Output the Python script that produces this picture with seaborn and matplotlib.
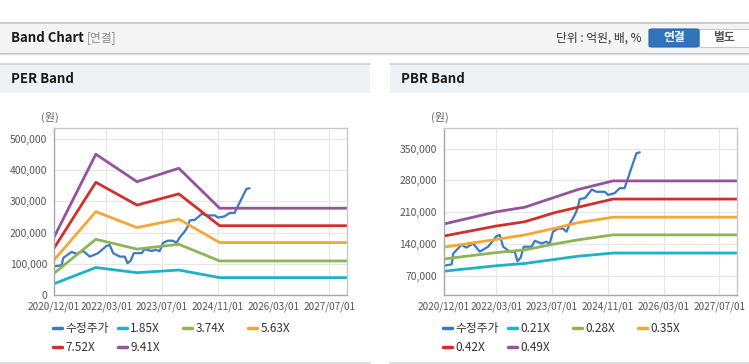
import pandas as pd
import matplotlib.pyplot as plt
import seaborn as sns
from matplotlib.patches import Rectangle, FancyBboxPatch
from matplotlib.lines import Line2D

# --- data (values in 원) ---
price_dates = ['2020-12-03', '2021-02-06', '2021-02-20', '2021-05-03', '2021-06-15', '2021-08-12',
               '2021-10-09', '2021-12-21', '2022-03-03', '2022-04-01', '2022-05-01', '2022-06-28',
               '2022-08-10', '2022-09-03', '2022-10-01', '2022-10-28', '2023-01-04', '2023-02-01',
               '2023-04-01', '2023-05-13', '2023-06-10', '2023-07-10', '2023-08-22', '2023-10-04',
               '2023-11-04', '2023-12-04', '2024-01-16', '2024-02-10', '2024-02-28', '2024-04-13',
               '2024-06-13', '2024-07-22', '2024-10-04', '2024-11-01', '2024-12-28', '2025-02-12',
               '2025-03-25', '2025-04-18', '2025-06-07', '2025-07-07', '2025-08-04']
price = [92000, 95000, 119000, 138000, 132000, 141000, 123000, 134000, 157000, 160000, 134000,
         123000, 123000, 102000, 110000, 134000, 134000, 147000, 141000, 145000, 140000, 167000,
         174000, 174000, 167000, 185000, 204000, 219000, 239000, 241000, 260000, 255000, 255000,
         248000, 252000, 263000, 263000, 281000, 318000, 340000, 342000]

per_dates = ['2020-12-01', '2021-12-01', '2022-11-25', '2023-11-25', '2024-11-15', '2027-12-01']
per_labels = ['1.85X', '3.74X', '5.63X', '7.52X', '9.41X']
per_185 = [36000, 88000, 71500, 80000, 55600, 55600]
per_374 = [69500, 178500, 147000, 162500, 109000, 109000]
per_563 = [112000, 267000, 216000, 243000, 168000, 168000]
per_752 = [150000, 361000, 288000, 324000, 222000, 222000]
per_941 = [185000, 451000, 363000, 406000, 278000, 278000]

pbr_dates = ['2020-12-01', '2022-03-03', '2022-11-06', '2023-07-25', '2024-02-13', '2024-12-15', '2027-12-01']
pbr_labels = ['0.21X', '0.28X', '0.35X', '0.42X', '0.49X']
pbr_021 = [80000, 92000, 97000, 106000, 113000, 120000, 120000]
pbr_028 = [107000, 121000, 127000, 140000, 149000, 160000, 160000]
pbr_035 = [133000, 150000, 160000, 174500, 187000, 199000, 199000]
pbr_042 = [157500, 179600, 189000, 209000, 221000, 239000, 239000]
pbr_049 = [184000, 211000, 221000, 243000, 260000, 279000, 279000]

date_ticks = ['2020/12/01', '2022/03/01', '2023/07/01', '2024/11/01', '2026/03/01', '2027/07/01']
per_yticks = [0, 100000, 200000, 300000, 400000, 500000]
pbr_yticks = [70000, 140000, 210000, 280000, 350000]

colors = ['#3a78c8', '#1eb2c6', '#8db456', '#f4a734', '#d0302c', '#97529d']
price_name = '수정주가'

sns.set_theme(style='white')
plt.rcParams['font.family'] = ['Noto Sans CJK KR', 'DejaVu Sans']

W, H = 749, 364
fig = plt.figure(figsize=(W / 100, H / 100), dpi=100)


def fx(px):
    return px / W


def fy(py):
    return 1 - py / H


def rect(x0, y0, x1, y1, fc, ec='none', lw=0):
    fig.patches.append(Rectangle((fx(x0), fy(y1)), fx(x1) - fx(x0), fy(y0) - fy(y1),
                                 transform=fig.transFigure, fc=fc, ec=ec, lw=lw, zorder=0))


def hline(x0, x1, y, c, lw=1):
    fig.add_artist(Line2D([fx(x0), fx(x1)], [fy(y), fy(y)], transform=fig.transFigure, color=c, lw=lw))


# header bar
rect(0, 23, W, 52, '#f4f4f4')
hline(0, W, 23, '#c4c4c4', 1.2)
hline(0, W, 52.5, '#bdbdbd', 1.0)
hline(0, W, 53.5, '#dedede', 1.0)
fig.text(fx(11), fy(38), 'Band Chart', fontsize=9.5, fontweight='bold', color='#1a1a1a', va='center')
fig.text(fx(87), fy(38), '[연결]', fontsize=8.5, color='#8a8a8a', va='center')
fig.text(fx(641), fy(38), '단위 : 억원, 배, %', fontsize=8.5, color='#333333', va='center', ha='right')
fig.patches.append(FancyBboxPatch((fx(649), fy(47)), fx(50), fy(29) - fy(47),
                                  boxstyle='round,pad=0,rounding_size=0.004', transform=fig.transFigure,
                                  fc='#3274bb', ec='#2a66a8', lw=0.8, zorder=1))
rect(699, 29, 752, 47, '#ffffff', '#c8c8c8', 0.8)
fig.text(fx(674), fy(38), '연결', fontsize=8.5, fontweight='bold', color='white', va='center', ha='center')
fig.text(fx(724), fy(38), '별도', fontsize=8.5, fontweight='bold', color='#555555', va='center', ha='center')

# panels
for x0, x1, title in [(0, 370, 'PER Band'), (390, W, 'PBR Band')]:
    rect(x0, 64, x1, 93, '#eef2f7')
    hline(x0, x1, 64, '#d2d2d2', 1.2)
    hline(x0, x1, 362.5, '#d8d8d8', 1.2)
    fig.text(fx(x0 + 11), fy(79), title, fontsize=9.5, fontweight='bold', color='#1a1a1a', va='center')


def draw(ax, left_px, band_dates, band_names, band_values, yticks, ylim):
    frames = [pd.DataFrame({'date': pd.to_datetime(price_dates), 'value': price, 'series': price_name})]
    for name, vals in zip(band_names, band_values):
        frames.append(pd.DataFrame({'date': pd.to_datetime(band_dates), 'value': vals, 'series': name}))
    df = pd.concat(frames, ignore_index=True)
    order = [price_name] + band_names
    sizes = {n: (1.6 if n == price_name else 2.0) for n in order}
    sns.lineplot(data=df, x='date', y='value', hue='series', hue_order=order,
                 palette=dict(zip(order, colors)), size='series', sizes=sizes,
                 size_order=order, ax=ax, legend=False, estimator=None, sort=True)
    ax.set_xlim(pd.Timestamp('2020-12-01'), pd.Timestamp('2027-12-01'))
    ax.set_ylim(*ylim)
    ax.set_xticks(pd.to_datetime(date_ticks))
    ax.set_xticklabels(date_ticks)
    ax.set_yticks(yticks)
    ax.set_yticklabels([f'{v:,}' for v in yticks])
    ax.set_xlabel('')
    ax.set_ylabel('')
    ax.grid(True, color='#e6e6e6', lw=0.8)
    for s in ax.spines.values():
        s.set_color('#c8c8c8')
        s.set_linewidth(1.0)
    ax.spines['left'].set_color('#a8a8a8')
    ax.spines['bottom'].set_color('#a8a8a8')
    ax.tick_params(axis='both', length=3, width=0.8, color='#a8a8a8', labelsize=7.5,
                   labelcolor='#555555', pad=2)
    ax.tick_params(axis='x', labelsize=7.2)

    # legend: fixed-width columns, row-major like the reference
    handles = [Line2D([], [], color=c, lw=2.5) for c in colors]
    columns = [[0, 4], [1, 5], [2], [3]]
    for k, col in enumerate(columns):
        fig.legend([handles[i] for i in col], [order[i] for i in col], frameon=False,
                   loc='upper left', bbox_to_anchor=(fx(left_px - 1 + 65 * k), fy(322)),
                   fontsize=8.5, handlelength=0.75, handletextpad=0.3, borderpad=0,
                   borderaxespad=0, labelspacing=0.55, labelcolor='#333333')


ax1 = fig.add_axes([fx(54), fy(295), fx(347) - fx(54), fy(128) - fy(295)])
draw(ax1, 54, per_dates, per_labels, [per_185, per_374, per_563, per_752, per_941], per_yticks, (0, 535000))
fig.text(fx(50), fy(117), '(원)', fontsize=8, color='#666666', ha='center', va='center')

ax2 = fig.add_axes([fx(444), fy(295), fx(737) - fx(444), fy(128) - fy(295)])
draw(ax2, 444, pbr_dates, pbr_labels, [pbr_021, pbr_028, pbr_035, pbr_042, pbr_049], pbr_yticks, (27500, 395600))
fig.text(fx(440), fy(117), '(원)', fontsize=8, color='#666666', ha='center', va='center')

fig.savefig('out.png', dpi=100)
